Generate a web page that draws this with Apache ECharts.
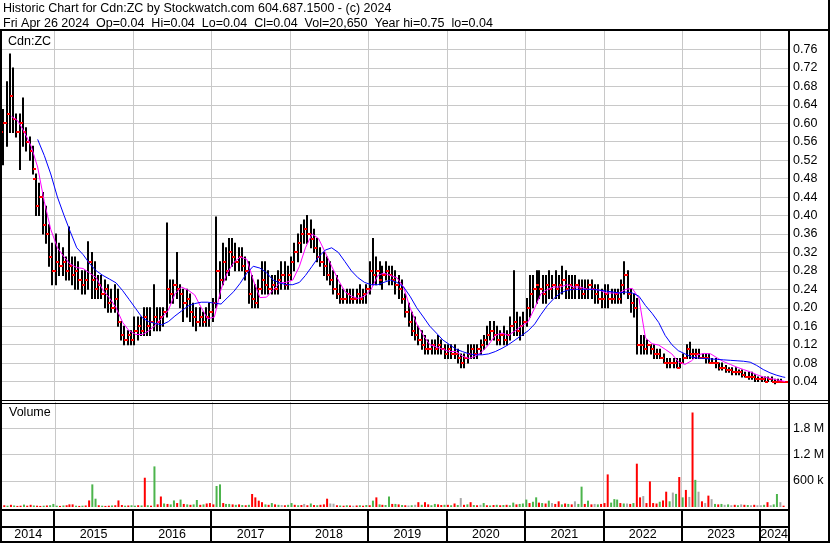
<!DOCTYPE html>
<html><head><meta charset="utf-8">
<script src="https://cdn.jsdelivr.net/npm/echarts@6/dist/echarts.min.js"></script>
<style>html,body{margin:0;padding:0;background:#fff}#c{width:830px;height:543px}</style>
</head><body><div id="c"></div>
<script>
const FONT = '"Liberation Sans", Arial, sans-serif';
const title1 = 'Historic Chart for Cdn:ZC by Stockwatch.com 604.687.1500 - (c) 2024';
const title2 = 'Fri Apr 26 2024  Op=0.04  Hi=0.04  Lo=0.04  Cl=0.04  Vol=20,650  Year hi=0.75  lo=0.04';
const symbolLabel = 'Cdn:ZC';
const volumeLabel = 'Volume';
const xStart = '2014-05-02', xEnd = '2024-05-09';
const yearStarts = ['2015-01-01','2016-01-01','2017-01-01','2018-01-01','2019-01-01','2020-01-01','2021-01-01','2022-01-01','2023-01-01','2024-01-01'];
const yearLabels = ['2014','2015','2016','2017','2018','2019','2020','2021','2022','2023','2024'];

// half-month bar dates (categories)
const barDates = [];
for (let y = 2014; y <= 2024; y++) for (let m = 1; m <= 12; m++) {
  if ((y === 2014 && m < 5) || (y === 2024 && m > 4)) continue;
  barDates.push(y + '-' + m + '-8', y + '-' + m + '-23');
}
// monthly sample dates for the moving averages
const maDates = [];
for (let y = 2014; y <= 2024; y++) for (let m = 1; m <= 12; m++) {
  if ((y === 2014 && m < 5) || (y === 2024 && m > 4)) continue;
  maDates.push(y + '-' + m + '-15');
}
maDates.push('2024-4-26');

const open = [
0.58,0.60,0.62,0.66,0.61,0.58,0.60,0.58,0.56,0.54,0.48,0.42,0.44,0.38,0.36,0.31,
0.28,0.30,0.29,0.30,0.28,0.29,0.27,0.28,0.26,0.25,0.26,0.30,0.26,0.24,0.25,0.23,0.24,0.21,0.20,0.22,0.17,0.14,0.13,0.14,
0.13,0.15,0.16,0.15,0.18,0.16,0.17,0.18,0.17,0.18,0.19,0.24,0.23,0.25,0.24,0.23,0.21,0.22,0.19,0.18,0.17,0.18,0.17,0.18,
0.19,0.21,0.28,0.26,0.30,0.28,0.32,0.31,0.30,0.31,0.29,0.28,0.23,0.22,0.21,0.24,0.26,0.25,0.24,0.25,0.24,0.26,0.27,0.25,
0.27,0.30,0.32,0.34,0.36,0.37,0.36,0.35,0.33,0.31,0.30,0.29,0.27,0.26,0.24,0.23,0.22,0.22,0.23,0.22,0.22,0.23,0.22,0.23,
0.24,0.28,0.27,0.28,0.26,0.27,0.28,0.27,0.26,0.25,0.24,0.22,0.19,0.17,0.15,0.14,0.13,0.12,0.11,0.11,0.12,0.11,0.12,0.11,
0.10,0.11,0.10,0.10,0.09,0.08,0.09,0.10,0.11,0.10,0.11,0.12,0.13,0.14,0.15,0.14,0.13,0.14,0.13,0.14,0.16,0.17,0.15,0.16,
0.17,0.20,0.23,0.24,0.25,0.24,0.23,0.25,0.24,0.25,0.24,0.25,0.26,0.24,0.25,0.24,0.25,0.24,0.23,0.24,0.25,0.24,0.23,0.22,
0.22,0.23,0.22,0.22,0.23,0.22,0.25,0.27,0.23,0.21,0.20,0.12,0.12,0.11,0.12,0.11,0.10,0.10,0.09,0.08,0.08,0.08,0.08,0.07,
0.08,0.09,0.11,0.10,0.10,0.10,0.09,0.09,0.09,0.08,0.08,0.08,0.07,0.07,0.065,0.065,0.06,0.06,0.06,0.055,0.05,0.05,0.05,0.045,
0.045,0.045,0.04,0.045,0.04,0.04,0.04,0.04];
const high = [
0.63,0.69,0.75,0.72,0.62,0.62,0.655,0.59,0.57,0.55,0.49,0.47,0.45,0.42,0.38,0.34,
0.36,0.34,0.33,0.31,0.375,0.31,0.31,0.30,0.28,0.28,0.343,0.32,0.30,0.27,0.27,0.26,0.25,0.24,0.25,0.24,0.17,0.16,0.15,0.15,
0.18,0.18,0.18,0.20,0.20,0.20,0.25,0.20,0.20,0.20,0.384,0.26,0.26,0.32,0.25,0.24,0.24,0.23,0.21,0.20,0.20,0.19,0.20,0.21,
0.22,0.397,0.30,0.34,0.33,0.35,0.35,0.34,0.33,0.33,0.31,0.30,0.27,0.25,0.26,0.30,0.30,0.28,0.27,0.27,0.28,0.30,0.30,0.29,
0.31,0.34,0.36,0.38,0.39,0.40,0.39,0.37,0.35,0.33,0.32,0.31,0.30,0.28,0.27,0.25,0.24,0.24,0.24,0.24,0.24,0.25,0.24,0.25,
0.30,0.35,0.31,0.30,0.29,0.30,0.29,0.29,0.28,0.27,0.26,0.23,0.21,0.19,0.18,0.16,0.15,0.14,0.13,0.13,0.13,0.14,0.13,0.12,
0.12,0.12,0.12,0.11,0.10,0.10,0.12,0.12,0.12,0.12,0.13,0.14,0.16,0.17,0.17,0.16,0.15,0.16,0.15,0.18,0.28,0.19,0.18,0.19,
0.22,0.27,0.27,0.28,0.28,0.27,0.27,0.28,0.27,0.28,0.27,0.29,0.28,0.27,0.27,0.27,0.26,0.26,0.26,0.26,0.26,0.25,0.25,0.24,
0.25,0.25,0.24,0.24,0.24,0.26,0.30,0.28,0.24,0.23,0.22,0.14,0.14,0.13,0.12,0.12,0.11,0.11,0.10,0.09,0.09,0.09,0.09,0.09,
0.10,0.12,0.125,0.11,0.11,0.11,0.10,0.10,0.10,0.09,0.09,0.08,0.08,0.075,0.07,0.07,0.07,0.065,0.065,0.06,0.06,0.06,0.055,0.05,
0.05,0.05,0.05,0.05,0.045,0.045,0.045,0.04];
const low = [
0.51,0.55,0.58,0.58,0.57,0.50,0.55,0.54,0.52,0.49,0.40,0.40,0.36,0.34,0.29,0.25,
0.25,0.27,0.27,0.26,0.26,0.25,0.24,0.24,0.23,0.23,0.24,0.22,0.22,0.22,0.22,0.20,0.19,0.19,0.19,0.16,0.13,0.12,0.12,0.12,
0.12,0.13,0.14,0.14,0.14,0.14,0.15,0.15,0.15,0.16,0.18,0.21,0.21,0.22,0.20,0.17,0.18,0.17,0.16,0.15,0.16,0.16,0.16,0.16,
0.17,0.20,0.22,0.25,0.26,0.27,0.29,0.28,0.28,0.28,0.26,0.21,0.20,0.20,0.20,0.23,0.23,0.23,0.23,0.23,0.23,0.24,0.24,0.24,
0.26,0.28,0.30,0.32,0.34,0.34,0.33,0.32,0.30,0.29,0.27,0.26,0.25,0.23,0.22,0.21,0.21,0.21,0.21,0.21,0.21,0.21,0.21,0.21,
0.23,0.25,0.25,0.25,0.24,0.26,0.25,0.25,0.23,0.22,0.21,0.18,0.16,0.14,0.13,0.12,0.11,0.10,0.10,0.10,0.10,0.10,0.10,0.09,
0.09,0.09,0.09,0.08,0.07,0.07,0.08,0.09,0.09,0.09,0.10,0.11,0.12,0.13,0.13,0.12,0.12,0.12,0.12,0.13,0.14,0.14,0.13,0.14,
0.16,0.18,0.20,0.21,0.22,0.21,0.21,0.22,0.22,0.22,0.22,0.23,0.22,0.22,0.22,0.22,0.22,0.22,0.22,0.22,0.22,0.21,0.21,0.20,
0.20,0.20,0.21,0.21,0.21,0.21,0.23,0.22,0.19,0.18,0.10,0.10,0.10,0.10,0.10,0.09,0.09,0.09,0.08,0.07,0.07,0.07,0.07,0.07,
0.08,0.09,0.09,0.09,0.09,0.09,0.09,0.08,0.08,0.08,0.07,0.065,0.065,0.06,0.06,0.055,0.055,0.055,0.05,0.05,0.045,0.045,0.04,0.04,
0.04,0.04,0.04,0.04,0.035,0.04,0.04,0.04];
const close = [
0.60,0.62,0.66,0.61,0.58,0.60,0.58,0.56,0.54,0.50,0.42,0.44,0.38,0.36,0.31,0.28,
0.30,0.29,0.30,0.28,0.29,0.27,0.28,0.26,0.25,0.26,0.30,0.26,0.24,0.25,0.23,0.24,0.21,0.20,0.22,0.17,0.14,0.13,0.14,0.13,
0.15,0.16,0.15,0.18,0.16,0.17,0.18,0.17,0.18,0.19,0.24,0.23,0.25,0.24,0.23,0.21,0.22,0.19,0.18,0.17,0.18,0.17,0.18,0.19,
0.21,0.28,0.26,0.30,0.28,0.32,0.31,0.30,0.31,0.29,0.28,0.23,0.22,0.21,0.24,0.26,0.25,0.24,0.25,0.24,0.26,0.27,0.25,0.27,
0.30,0.32,0.34,0.36,0.37,0.36,0.35,0.33,0.31,0.30,0.29,0.27,0.26,0.24,0.23,0.22,0.22,0.23,0.22,0.22,0.23,0.22,0.23,0.24,
0.28,0.27,0.28,0.26,0.27,0.28,0.27,0.26,0.25,0.24,0.22,0.19,0.17,0.15,0.14,0.13,0.12,0.11,0.11,0.12,0.11,0.12,0.11,0.10,
0.11,0.10,0.10,0.09,0.08,0.09,0.10,0.11,0.10,0.11,0.12,0.13,0.14,0.15,0.14,0.13,0.14,0.13,0.14,0.16,0.17,0.15,0.16,0.17,
0.20,0.23,0.24,0.25,0.24,0.23,0.25,0.24,0.25,0.24,0.25,0.26,0.24,0.25,0.24,0.25,0.24,0.23,0.24,0.25,0.24,0.23,0.22,0.22,
0.23,0.22,0.22,0.23,0.22,0.25,0.27,0.23,0.21,0.20,0.12,0.12,0.11,0.12,0.11,0.10,0.10,0.09,0.08,0.08,0.08,0.08,0.07,0.08,
0.09,0.11,0.10,0.10,0.10,0.09,0.09,0.09,0.08,0.08,0.08,0.07,0.07,0.065,0.065,0.06,0.06,0.06,0.055,0.05,0.05,0.05,0.045,0.045,
0.045,0.04,0.045,0.04,0.04,0.04,0.04,0.04];
// volume, thousands of shares
const volume = [
40,30,50,35,25,30,55,30,50,35,30,25,30,35,40,70,
30,25,35,40,60,60,30,25,30,35,150,517,190,40,30,25,30,35,40,150,45,30,35,40,
30,40,35,669,40,30,928,60,240,80,70,60,150,90,170,70,60,50,60,160,50,60,80,90,
60,480,517,90,70,70,60,50,60,45,40,50,297,220,145,110,60,50,90,60,50,45,40,50,
90,50,40,45,70,40,80,45,40,50,60,190,80,75,40,35,30,40,35,30,35,40,30,45,
40,145,220,60,50,45,240,70,70,60,45,40,35,40,50,110,50,110,60,40,70,60,45,50,
50,40,80,45,205,50,60,110,45,40,50,90,40,35,45,50,40,45,50,40,100,60,70,80,
170,90,120,221,100,90,80,145,90,70,130,60,80,70,60,130,70,465,70,145,60,70,60,70,
90,745,100,180,170,90,80,80,70,90,990,220,250,90,585,90,80,120,150,350,130,330,300,685,
220,390,230,2160,620,350,130,90,260,180,70,60,70,50,60,40,50,40,60,50,45,40,50,40,
40,50,110,40,60,297,110,30];
// r = down day, g = up day, n = unchanged
const volColor = ('rgrgrrgrrgrrgrgg' + 'grgrrrgrgrrggrgrrgrrrgrg' + 'grgrgrgrrgrggrgrgrggrgrr' +
  'rggrggrgrgrgrrrrgrgrgnrg' + 'grgrnrgrgrrrnnrgrgrnrgrg' + 'rgrgrggrgrgrngnrgrrggrrg' +
  'rgrgnrgrgrngrgrgrgrggrgg' + 'grggrgrgnrrgrgrnggrgrngr' + 'rrgggrgnrgrrnrrrrgrrgngr' +
  'grnrgnrnrngrgngnrgnrgnrn' + 'ngrnggnr').split('');

const maShort = [
null,0.615,0.605,0.58,0.55,0.505,0.43,0.37,
0.33,0.31,0.295,0.287,0.285,0.275,0.265,0.238,0.221,0.20,0.168,0.15,
0.142,0.142,0.15,0.162,0.178,0.195,0.23,0.245,0.238,0.228,0.20,0.176,
0.18,0.24,0.275,0.298,0.31,0.305,0.26,0.222,0.223,0.238,0.254,0.255,
0.26,0.29,0.33,0.36,0.35,0.32,0.29,0.26,0.235,0.225,0.22,0.225,
0.24,0.27,0.275,0.27,0.265,0.245,0.20,0.165,0.14,0.12,0.115,0.11,
0.105,0.105,0.095,0.09,0.095,0.105,0.12,0.14,0.145,0.14,0.15,0.16,
0.17,0.20,0.23,0.24,0.245,0.245,0.25,0.245,0.245,0.24,0.24,0.238,
0.232,0.232,0.232,0.24,0.242,0.22,0.135,0.122,0.119,0.11,0.10,0.083,
0.077,0.085,0.098,0.101,0.10,0.091,0.083,0.077,0.071,0.066,0.061,0.055,
0.05,0.047,0.044,0.041,0.040];
const maLong = [
null,null,null,null,null,0.565,0.53,0.49,
0.44,0.40,0.366,0.33,0.315,0.295,0.28,0.27,0.262,0.254,0.237,0.218,
0.198,0.178,0.17,0.166,0.163,0.17,0.182,0.193,0.204,0.209,0.212,0.212,
0.21,0.208,0.221,0.235,0.253,0.275,0.29,0.286,0.276,0.26,0.254,0.25,
0.25,0.255,0.27,0.29,0.31,0.325,0.33,0.32,0.30,0.28,0.265,0.255,
0.25,0.25,0.255,0.26,0.255,0.245,0.225,0.20,0.18,0.16,0.145,0.13,
0.12,0.11,0.105,0.10,0.098,0.098,0.10,0.105,0.112,0.12,0.13,0.14,
0.15,0.165,0.185,0.205,0.22,0.232,0.238,0.24,0.24,0.24,0.24,0.238,
0.236,0.234,0.232,0.234,0.232,0.225,0.205,0.188,0.168,0.14,0.12,0.107,
0.10,0.093,0.091,0.09,0.089,0.088,0.087,0.086,0.085,0.084,0.082,0.075,
0.066,0.059,0.054,0.05,0.049];

const n = barDates.length;
[open, high, low, close, volume, volColor].forEach((a, k) => {
  if (a.length !== n) throw new Error('length mismatch array ' + k + ': ' + a.length + ' vs ' + n);
});
[maShort, maLong].forEach((a, k) => {
  if (a.length !== maDates.length) throw new Error('ma length mismatch ' + k + ': ' + a.length + ' vs ' + maDates.length);
});

function ts(s) { const p = s.split('-').map(Number); return new Date(p[0], p[1] - 1, p[2]).getTime(); }
const X0 = ts(xStart), X1 = ts(xEnd);
const colorMap = { r: '#ff0000', g: '#4cb44c', n: '#a8a8a8' };

function vLines(color, width) {
  return function (params, api) {
    const cs = params.coordSys;
    const x = Math.round(api.coord([api.value(0), 0])[0]) + (width % 2 ? 0.5 : 0);
    return { type: 'line', silent: true,
      shape: { x1: x, y1: cs.y, x2: x, y2: cs.y + cs.height },
      style: { stroke: color, lineWidth: width } };
  };
}
const yearLineData = yearStarts.map(d => [ts(d), 0]);
const segData = yearLabels.map((t, i) => [
  i === 0 ? X0 : ts(yearStarts[i - 1]),
  i === yearLabels.length - 1 ? X1 : ts(yearStarts[i]),
  0.5]);

const chart = echarts.init(document.getElementById('c'), null, { renderer: 'canvas', width: 830, height: 543 });
const xBase = { type: 'time', min: X0, max: X1, show: false };
const labelStyle = { color: '#000', fontSize: 12.5, fontFamily: FONT, margin: 5 };

const option = {
  animation: false,
  backgroundColor: '#ffffff',
  textStyle: { fontFamily: FONT },
  grid: [
    { left: 2, top: 31, width: 786, height: 369 },
    { left: 2, top: 402, width: 786, height: 105 },
    { left: 2, top: 509, width: 786, height: 34 }
  ],
  xAxis: [
    Object.assign({ gridIndex: 0 }, xBase),
    Object.assign({ gridIndex: 1 }, xBase),
    Object.assign({ gridIndex: 2 }, xBase)
  ],
  yAxis: [
    { type: 'value', gridIndex: 0, min: 0, max: 0.8, interval: 0.04, position: 'right',
      axisLine: { show: false }, axisTick: { show: false },
      axisLabel: Object.assign({ showMinLabel: false, showMaxLabel: false, formatter: v => v.toFixed(2) }, labelStyle),
      splitLine: { show: true, showMinLine: false, showMaxLine: false, lineStyle: { color: '#c8c8c8', width: 1 } } },
    { type: 'value', gridIndex: 1, min: 0, max: 2400000, interval: 600000, position: 'right',
      axisLine: { show: false }, axisTick: { show: false },
      axisLabel: Object.assign({ showMinLabel: false, showMaxLabel: false,
        formatter: v => v >= 1e6 ? (v / 1e6).toFixed(1) + ' M' : Math.round(v / 1000) + ' k' }, labelStyle),
      splitLine: { show: true, showMinLine: false, showMaxLine: false, lineStyle: { color: '#c8c8c8', width: 1 } } },
    { type: 'value', gridIndex: 2, min: 0, max: 1, show: false }
  ],
  series: [
    { type: 'custom', name: 'yearGrid0', xAxisIndex: 0, yAxisIndex: 0, z: 1, silent: true,
      data: yearLineData, encode: { x: 0, y: 1 }, renderItem: vLines('#c8c8c8', 1) },
    { type: 'custom', name: 'yearGrid1', xAxisIndex: 1, yAxisIndex: 1, z: 1, silent: true,
      data: yearLineData, encode: { x: 0, y: 1 }, renderItem: vLines('#c8c8c8', 1) },
    { type: 'custom', name: 'yearSep', xAxisIndex: 2, yAxisIndex: 2, z: 1, silent: true,
      data: yearLineData, encode: { x: 0, y: 1 }, renderItem: vLines('#000', 2) },
    { type: 'custom', name: 'yearText', xAxisIndex: 2, yAxisIndex: 2, z: 5, silent: true,
      data: segData, encode: { x: [0, 1], y: 2 },
      renderItem: function (params, api) {
        const cs = params.coordSys;
        const xa = api.coord([api.value(0), 0])[0];
        const xb = api.coord([api.value(1), 0])[0];
        return { type: 'text', silent: true,
          style: { text: yearLabels[params.dataIndex], x: (xa + xb) / 2, y: cs.y + 25.5,
            textAlign: 'center', textVerticalAlign: 'middle', align: 'center', verticalAlign: 'middle',
            fill: '#000', font: '12.5px ' + FONT } };
      } },
    { type: 'custom', name: 'price', xAxisIndex: 0, yAxisIndex: 0, z: 3, silent: true,
      data: barDates.map((d, i) => [ts(d), open[i], high[i], low[i], close[i]]),
      encode: { x: 0, y: [1, 2, 3, 4] },
      renderItem: function (params, api) {
        const t = api.value(0);
        const x = Math.round(api.coord([t, 0])[0]);
        const yo = Math.round(api.coord([t, api.value(1)])[1]);
        const yh = api.coord([t, api.value(2)])[1];
        const yl = api.coord([t, api.value(3)])[1];
        const yc = Math.round(api.coord([t, api.value(4)])[1]);
        return { type: 'group', children: [
          { type: 'line', shape: { x1: x, y1: yh - 0.5, x2: x, y2: yl + 0.5 }, style: { stroke: '#000', lineWidth: 2 } },
          { type: 'line', shape: { x1: x - 3, y1: yo, x2: x, y2: yo }, style: { stroke: '#ff0000', lineWidth: 2 } },
          { type: 'line', shape: { x1: x, y1: yc, x2: x + 3, y2: yc }, style: { stroke: '#ff0000', lineWidth: 2 } }
        ] };
      } },
    { type: 'line', name: 'MA short', xAxisIndex: 0, yAxisIndex: 0, z: 4, silent: true,
      data: maDates.map((d, i) => [ts(d), maShort[i]]), showSymbol: false, connectNulls: false,
      lineStyle: { color: '#ff00ff', width: 1 }, itemStyle: { color: '#ff00ff' } },
    { type: 'line', name: 'MA long', xAxisIndex: 0, yAxisIndex: 0, z: 4, silent: true,
      data: maDates.map((d, i) => [ts(d), maLong[i]]), showSymbol: false, connectNulls: false,
      lineStyle: { color: '#0000ff', width: 1 }, itemStyle: { color: '#0000ff' } },
    { type: 'bar', name: 'Volume', xAxisIndex: 1, yAxisIndex: 1, z: 3, silent: true, barWidth: 2,
      data: barDates.map((d, i) => ({ value: [ts(d), volume[i] * 1000], itemStyle: { color: colorMap[volColor[i]] } })) }
  ],
  graphic: [
    { type: 'text', z: 100, silent: true, style: { text: title1, x: 3, y: 8.8, textVerticalAlign: 'middle', verticalAlign: 'middle', fill: '#000', font: '12.5px ' + FONT } },
    { type: 'text', z: 100, silent: true, style: { text: title2, x: 3, y: 23.2, textVerticalAlign: 'middle', verticalAlign: 'middle', fill: '#000', font: '12.5px ' + FONT } },
    { type: 'text', z: 100, silent: true, style: { text: symbolLabel, x: 8, y: 42, textVerticalAlign: 'middle', verticalAlign: 'middle', fill: '#000', font: '12.5px ' + FONT } },
    { type: 'text', z: 100, silent: true, style: { text: volumeLabel, x: 9, y: 412.5, textVerticalAlign: 'middle', verticalAlign: 'middle', fill: '#000', font: '12.5px ' + FONT } },
    { type: 'rect', z: 100, silent: true, shape: { x: 0, y: 29, width: 830, height: 2 }, style: { fill: '#000' } },
    { type: 'rect', z: 100, silent: true, shape: { x: 0, y: 29, width: 2, height: 514 }, style: { fill: '#000' } },
    { type: 'rect', z: 100, silent: true, shape: { x: 788, y: 29, width: 2, height: 514 }, style: { fill: '#000' } },
    { type: 'rect', z: 100, silent: true, shape: { x: 828, y: 0, width: 2, height: 543 }, style: { fill: '#000' } },
    { type: 'rect', z: 100, silent: true, shape: { x: 0, y: 400, width: 830, height: 1 }, style: { fill: '#000' } },
    { type: 'rect', z: 100, silent: true, shape: { x: 0, y: 403, width: 830, height: 1 }, style: { fill: '#000' } },
    { type: 'rect', z: 100, silent: true, shape: { x: 0, y: 509, width: 790, height: 2 }, style: { fill: '#000' } },
    { type: 'rect', z: 100, silent: true, shape: { x: 0, y: 526, width: 790, height: 2 }, style: { fill: '#000' } },
    { type: 'rect', z: 100, silent: true, shape: { x: 0, y: 541, width: 830, height: 2 }, style: { fill: '#000' } }
  ]
};
chart.setOption(option);
</script>
</body></html>
